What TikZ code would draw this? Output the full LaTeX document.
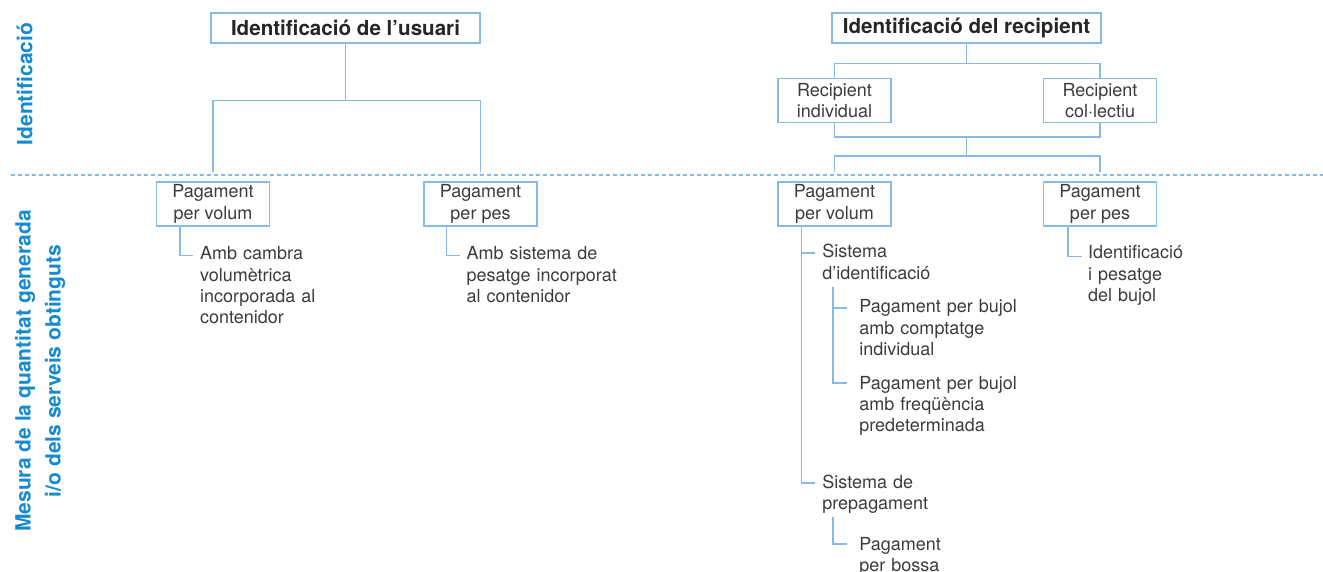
\documentclass[tikz,border=0pt]{standalone}
\usepackage{fontspec}
\setmainfont{TeX Gyre Heros}
\usetikzlibrary{calc, positioning}

\definecolor{linkblue}{RGB}{135,186,230}
\definecolor{labelblue}{RGB}{20,138,208}
\definecolor{textgray}{RGB}{60,60,60}

\tikzset{
  link/.style={draw=linkblue, line width=0.75pt},
  box/.style={link, fill=white, text=textgray, align=center,
    minimum width=56.5pt, minimum height=22pt, inner sep=0pt,
    font=\fontsize{9}{10.65}\selectfont,
    execute at begin node={\rule{0pt}{9.5pt}}},
  topbox/.style={link, fill=white, text=black!85, minimum width=134.5pt,
    minimum height=15pt, inner sep=0pt, font=\fontsize{10.3}{12}\selectfont\bfseries},
  leaf/.style={anchor=base west, inner sep=0pt, text width=100pt, align=left,
    text=textgray, font=\fontsize{9}{10.65}\selectfont},
  sidelabel/.style={rotate=90, text=labelblue, align=center, inner sep=0pt,
    font=\fontsize{10.5}{15}\selectfont\bfseries},
}

\begin{document}
\begin{tikzpicture}[x=0.5pt,y=-0.5pt,line cap=butt,line join=miter]
\path[use as bounding box] (0,0) rectangle (1323,572);
\clip (0,0) rectangle (1323,572);

% side labels
\node[sidelabel] (lblId) at (24.5,84) {Identificació};
\node[sidelabel] (lblMes) at (40,371) {Mesura de la quantitat generada\\i/o dels serveis obtinguts};

\draw[linkblue, line width=0.6pt, dash pattern=on 2pt off 1.5pt] (11,175) -- (1323,175);
\coordinate (cut) at (0,172);

% identification level
\node[topbox] (usuari) at (345.5,28) {Identificació de l’usuari};
\node[topbox] (recip) at (966.5,28) {Identificació del recipient};
\node[box] (indiv) at (834.5,100.5) {Recipient\\individual};
\node[box] (colect) at (1100,100.5) {Recipient\\col·lectiu};

% payment level
\node[box] (volA) at (213,204) {Pagament\\per volum};
\node[box] (pesA) at (480.5,204) {Pagament\\per pes};
\node[box] (volB) at (834.5,204) {Pagament\\per volum};
\node[box] (pesB) at (1100,204) {Pagament\\per pes};

% left tree
\coordinate (usuJ) at ($(usuari.south)+(0,57)$);
\draw[link] (usuari.south) -- (usuJ);
\draw[link] (volA.north |- cut) |- (usuJ) -| (pesA.north |- cut);

% right tree
\coordinate (recJ) at ($(recip.south)+(0,20)$);
\coordinate (recK) at (recip.south |- 0,137);
\coordinate (recL) at (recip.south |- 0,156);
\draw[link] (recip.south) -- (recJ);
\draw[link] (indiv.north) |- (recJ) -| (colect.north);
\draw[link] (indiv.south) |- (recK) -| (colect.south);
\draw[link] (recK) -- (recL);
\draw[link] (volB.north |- cut) |- (recL) -| (pesB.north |- cut);

% leaves under the boxes
\coordinate (eA) at ($(volA.south west)+(37,29)$);
\draw[link] ($(volA.south west)+(24,0)$) |- (eA);
\node[leaf] (cambra) at ($(eA)+(7,4)$) {Amb cambra\\volumètrica\\incorporada al\\contenidor};

\coordinate (eB) at ($(pesA.south west)+(37,29)$);
\draw[link] ($(pesA.south west)+(23,0)$) |- (eB);
\node[leaf] (bascula) at ($(eB)+(6,4)$) {Amb sistema de\\pesatge incorporat\\al contenidor};

\coordinate (eP) at ($(pesB.south west)+(39,30)$);
\draw[link] ($(pesB.south west)+(25,0)$) |- (eP);
\node[leaf] (idPes) at ($(eP)+(6,2)$) {Identificació\\i pesatge\\del bujol};

% volume payment with container identification
\coordinate (mainV) at ($(volB.south west)+(24,0)$);
\coordinate (eC) at (815,253);
\coordinate (eD) at (815,483);
\draw[link] (mainV) |- (eD);
\draw[link] (eC -| mainV) -- (eC);
\node[leaf] (sistId) at ($(eC)+(7,5)$) {Sistema\\d’identificació};
\node[leaf] (sistPre) at ($(eD)+(7,5)$) {Sistema de\\prepagament};

\coordinate (subA) at (833,287);
\coordinate (eE) at (847,308);
\coordinate (eF) at (847,383);
\draw[link] (subA) |- (eF);
\draw[link] (subA |- eE) -- (eE);
\node[leaf] (bujolInd) at ($(eE)+(12,5)$) {Pagament per bujol\\amb comptatge\\individual};
\node[leaf] (bujolFreq) at ($(eF)+(12,6)$) {Pagament per bujol\\amb freqüència\\predeterminada};

\coordinate (subB) at (833,517);
\coordinate (eG) at (847,544);
\draw[link] (subB) |- (eG);
\node[leaf] (bossa) at ($(eG)+(12,6)$) {Pagament\\per bossa};
\end{tikzpicture}
\end{document}
